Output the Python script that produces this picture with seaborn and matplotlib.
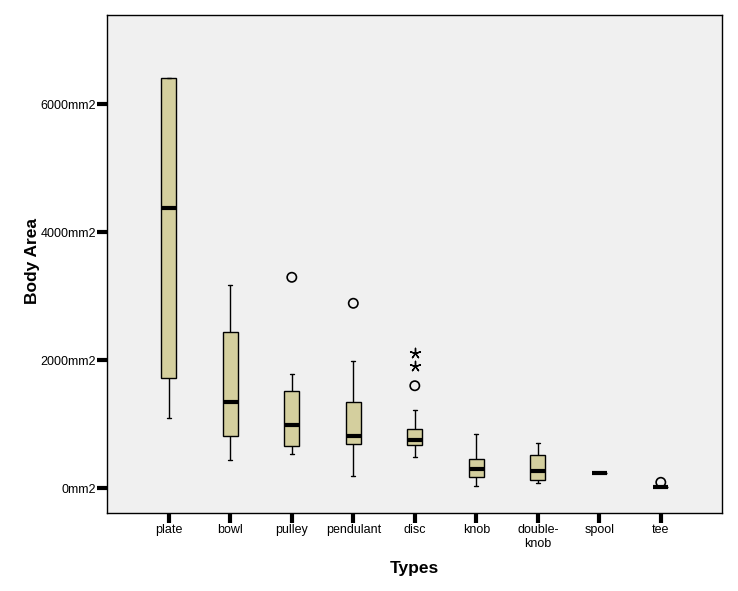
import matplotlib
matplotlib.use("Agg")
import matplotlib.pyplot as plt
import pandas as pd
import seaborn as sns

# five-number summaries (min, q1, median, q3, max)
types = ["plate", "bowl", "pulley", "pendulant", "disc", "knob", "double-knob", "spool", "tee"]
tick_labels = ["plate", "bowl", "pulley", "pendulant", "disc", "knob", "double-\nknob", "spool", "tee"]
low = [1094, 437, 531, 187, 489, 31, 83, 234, 25]
q1 = [1719, 812, 656, 697, 677, 172, 125, 234, 25]
median = [4375, 1344, 984, 812, 760, 297, 266, 234, 25]
q3 = [6406, 2437, 1516, 1353, 931, 453, 520, 234, 25]
high = [6406, 3172, 1791, 1984, 1219, 844, 703, 234, 25]

# outliers (circles) and extremes (stars)
outlier_types = ["pulley", "pendulant", "disc", "tee"]
outlier_values = [3297, 2891, 1603, 94]
extreme_types = ["disc", "disc"]
extreme_values = [2109, 1916]

rows = []
for t, a, b, c, d, e in zip(types, low, q1, median, q3, high):
    for v in (a, b, c, d, e):
        rows.append({"Types": t, "Body Area": v})
df = pd.DataFrame(rows)
out_df = pd.DataFrame({"Types": outlier_types, "Body Area": outlier_values})
ext_df = pd.DataFrame({"Types": extreme_types, "Body Area": extreme_values})

sns.set_style("white")
plt.rcParams["font.family"] = ["Liberation Sans", "DejaVu Sans"]

fig, ax = plt.subplots(figsize=(7.38, 5.91), dpi=100)
fig.subplots_adjust(left=107.3 / 738, right=722.3 / 738,
                    top=1 - 15.3 / 591, bottom=1 - 513.3 / 591)

sns.boxplot(data=df, x="Types", y="Body Area", order=types, ax=ax,
            whis=(0, 100), showfliers=False, width=0.25,
            color="#D4CF9E", saturation=1, linecolor="black", linewidth=1,
            medianprops={"linewidth": 3, "color": "black"},
            capwidths=0.07)
sns.scatterplot(data=out_df, x="Types", y="Body Area", ax=ax, marker="o",
                s=45, facecolor="none", edgecolor="black", linewidth=1.2,
                zorder=5)
sns.scatterplot(data=ext_df, x="Types", y="Body Area", ax=ax, marker=(5, 2, 0),
                s=55, color="black", linewidth=1, zorder=5)

ax.set_facecolor("#F0F0F0")
ax.set_xlim(-1, 9)
ax.set_ylim(-390, 7390)
ax.set_yticks([0, 2000, 4000, 6000])
ax.set_yticklabels(["0mm2", "2000mm2", "4000mm2", "6000mm2"])
ax.set_xticks(range(len(types)))
ax.set_xticklabels(tick_labels, linespacing=1.15)
ax.tick_params(axis="both", direction="out", length=7, width=3, color="black",
               labelcolor="black", labelsize=9.0, left=True, bottom=True)
ax.tick_params(axis="y", pad=1)
ax.tick_params(axis="x", pad=1)
for side in ["left", "bottom", "top", "right"]:
    ax.spines[side].set_color("black")
    ax.spines[side].set_linewidth(1)

ax.set_xlabel("Types", fontsize=12.5, fontweight="bold", labelpad=8,
              color="black")
ax.set_ylabel("Body Area", fontsize=12.5, fontweight="bold", color="black")
ax.yaxis.set_label_coords(-0.109, 0.506)

plt.savefig("out.png", dpi=100)
